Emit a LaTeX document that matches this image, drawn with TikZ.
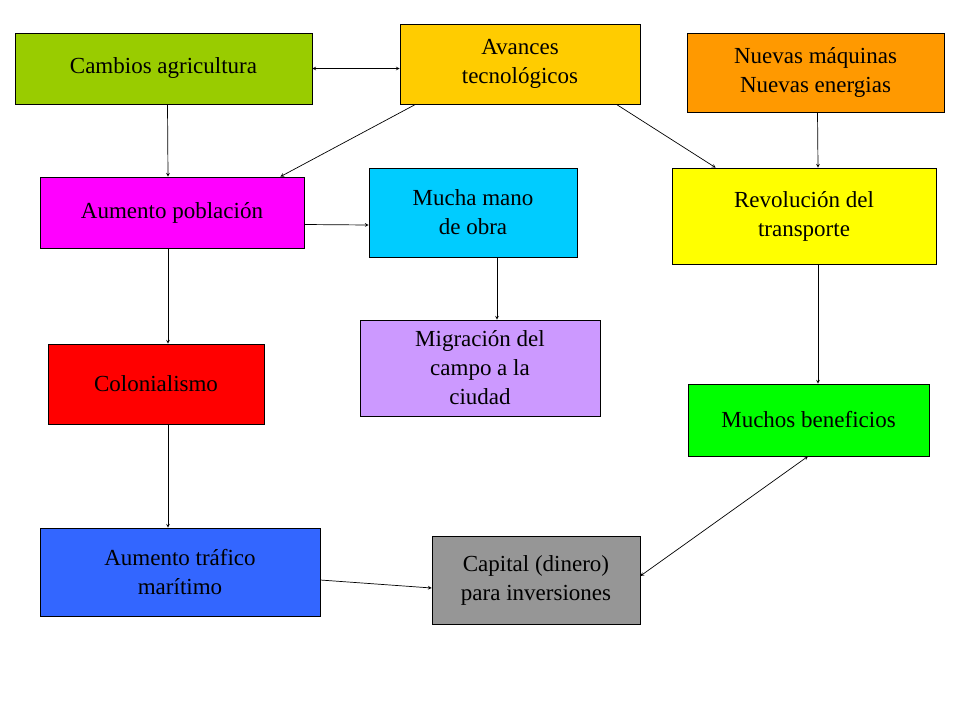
\documentclass[tikz,border=0pt]{standalone}
\usepackage{fontspec}
\setmainfont{Liberation Serif}
\usetikzlibrary{calc}
\begin{document}
\begin{tikzpicture}[x=1pt,y=-1pt,
  bx/.style={draw,black,line width=0.6pt,inner sep=0pt,align=center,font=\fontsize{23}{29}\selectfont},
  ar/.style={-stealth,line width=0.7pt},
  br/.style={stealth-stealth,line width=0.7pt}]
\useasboundingbox (0,0) rectangle (960,720);
\newcommand\bx[7]{\node[bx,fill={#6},minimum width={#4-#2},minimum height={#5-#3}] (#1) at ({(#2+#4)/2},{(#3+#5)/2}) {#7};}
\definecolor{cA}{RGB}{153,204,0}
\definecolor{cB}{RGB}{255,204,0}
\definecolor{cC}{RGB}{255,153,0}
\definecolor{cD}{RGB}{255,0,255}
\definecolor{cE}{RGB}{0,204,255}
\definecolor{cF}{RGB}{255,255,0}
\definecolor{cG}{RGB}{204,153,255}
\definecolor{cH}{RGB}{255,0,0}
\definecolor{cI}{RGB}{0,255,0}
\definecolor{cJ}{RGB}{51,102,255}
\definecolor{cK}{RGB}{150,150,150}
\bx{cam}{15}{33}{312}{104}{cA}{Cambios agricultura}
\bx{ava}{400}{24}{640}{104}{cB}{Avances\\tecnológicos}
\bx{nue}{687}{33}{944}{112}{cC}{Nuevas máquinas\\Nuevas energias}
\bx{aum}{40}{177}{304}{248}{cD}{Aumento población}
\bx{muc}{369}{168}{577}{257}{cE}{Mucha mano\\de obra}
\bx{rev}{672}{168}{936}{264}{cF}{Revolución del\\transporte}
\bx{mig}{360}{320}{600}{416}{cG}{Migración del\\campo a la\\ciudad}
\bx{col}{48}{344}{264}{424}{cH}{Colonialismo}
\bx{ben}{688}{384}{929}{456}{cI}{Muchos beneficios}
\bx{tra}{40}{528}{320}{616}{cJ}{Aumento tráfico\\marítimo}
\bx{cap}{432}{536}{640}{624}{cK}{Capital (dinero)\\para inversiones}
\draw[br] (cam.east) -- (ava.west |- cam.east);
\draw[ar] ($(cam.south)+(4,0)$) -- ($(aum.north)+(-4,0)$);
\draw[ar] ($(ava.south west)+(16,0)$) -- ($(aum.north east)+(-24,0)$);
\draw[ar] ($(ava.south east)+(-24,0)$) -- ($(rev.north west)+(44,0)$);
\draw[ar] ($(nue.south)+(2,0)$) -- ($(rev.north)+(14,0)$);
\draw[ar] ($(aum.east)+(0,12)$) -- ($(muc.west)+(0,12.5)$);
\draw[ar] ($(muc.south)+(24,0)$) -- ($(mig.north)+(17,0)$);
\draw[ar] ($(aum.south)+(-4,0)$) -- ($(col.north)+(12,0)$);
\draw[ar] ($(rev.south)+(14,0)$) -- ($(ben.north)+(9.5,0)$);
\draw[ar] ($(col.south)+(12,0)$) -- ($(tra.north)+(-12,0)$);
\draw[ar] ($(tra.east)+(0,8)$) -- ($(cap.west)+(0,8)$);
\draw[br] ($(cap.east)+(0,-4)$) -- ($(ben.south)+(-0.5,0)$);
\end{tikzpicture}
\end{document}
